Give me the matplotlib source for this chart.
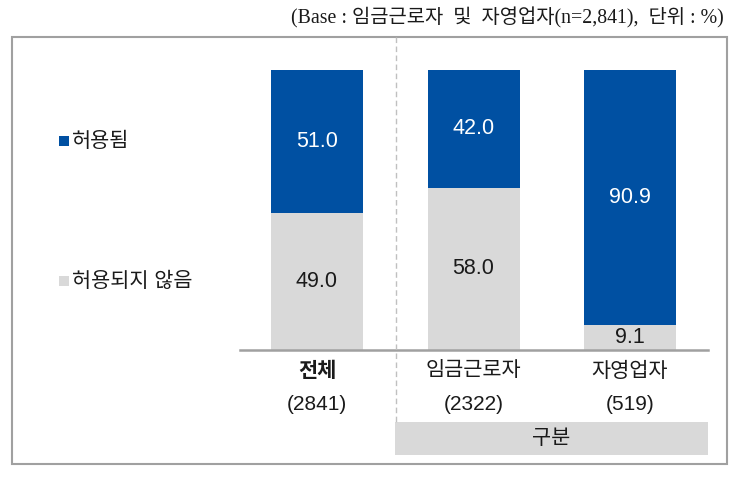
import matplotlib
matplotlib.use("Agg")
import matplotlib.pyplot as plt
from matplotlib.patches import Rectangle
from matplotlib.lines import Line2D

plt.rcParams['font.family'] = ['Liberation Sans', 'Noto Sans CJK KR']

categories = ['전체', '임금근로자', '자영업자']
counts = ['(2841)', '(2322)', '(519)']
allowed = [51.0, 42.0, 90.9]
not_allowed = [49.0, 58.0, 9.1]
series_names = ['허용됨', '허용되지 않음']
header = '(Base : 임금근로자  및  자영업자(n=2,841),  단위 : %)'
group_label = '구분'

BLUE = '#0050A2'
GRAY = '#D9D9D9'
LINE = '#A0A0A0'
TXT = '#1A1A1A'

W, H = 746, 479
fig = plt.figure(figsize=(W / 100, H / 100), dpi=100)

def fx(x):
    return x / W

def fy(y):
    return 1 - y / H

# main axes: pixels x 240..708, y 70..350
ax = fig.add_axes([fx(240), fy(350), (708 - 240) / W, 280 / H])
unit = 156.5
ax.set_xlim(-77 / unit, (468 - 77) / unit)
ax.set_ylim(0, 100)
ax.axis('off')

xs = list(range(len(categories)))
bw = 92 / unit
ax.bar(xs, not_allowed, width=bw, color=GRAY, edgecolor='none')
ax.bar(xs, allowed, width=bw, bottom=not_allowed, color=BLUE, edgecolor='none')
for x, a, n in zip(xs, allowed, not_allowed):
    ax.text(x, n + a / 2, f'{a:.1f}', ha='center', va='center', color='white', fontsize=15.5)
    ax.text(x, n / 2, f'{n:.1f}', ha='center', va='center', color=TXT, fontsize=15.5)
ax.axhline(0, color=LINE, lw=1.8, clip_on=False)

# frame
fig.add_artist(Rectangle((fx(12), fy(464)), (727 - 12) / W, (464 - 37) / H,
                         transform=fig.transFigure, fill=False, edgecolor=LINE, lw=1.5))
# dashed divider
fig.add_artist(Line2D([fx(396), fx(396)], [fy(37), fy(422)], transform=fig.transFigure,
                      color='#C0C0C0', lw=1.0, ls=(0, (4, 2.5))))
# group box
fig.add_artist(Rectangle((fx(395), fy(455)), (708 - 395) / W, (455 - 422) / H,
                         transform=fig.transFigure, color=GRAY, lw=0))
fig.text(fx(551), fy(438.5), group_label, ha='center', va='center', fontsize=15, color=TXT)

# category labels
for x, c, n in zip(xs, categories, counts):
    px = ax.transData.transform((x, 0))[0] / fig.dpi / fig.get_figwidth()
    fig.text(px, fy(371), c, ha='center', va='center', fontsize=15, color=TXT,
             fontweight='bold' if c == '전체' else 'normal')
    fig.text(px, fy(404), n, ha='center', va='center', fontsize=15, color=TXT)

# legend
for yc, name, col in [(141, series_names[0], BLUE), (281, series_names[1], GRAY)]:
    fig.add_artist(Rectangle((fx(59), fy(yc + 5)), 10 / W, 10 / H, transform=fig.transFigure,
                             color=col, lw=0))
    fig.text(fx(72), fy(yc), name, ha='left', va='center', fontsize=15, color=TXT)

# header
fig.text(fx(724), fy(18), header, ha='right', va='center', fontsize=14.3, color=TXT,
         family=['Liberation Serif', 'Noto Sans CJK KR'])

fig.savefig('out.png', dpi=100)
